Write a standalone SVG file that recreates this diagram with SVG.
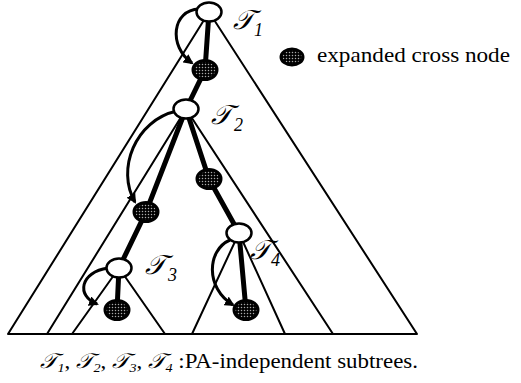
<svg xmlns="http://www.w3.org/2000/svg" width="521" height="383" viewBox="0 0 521 383">
<style>
.thin{fill:none;stroke:#000;stroke-width:2;stroke-linejoin:round}
.thick{fill:none;stroke:#000;stroke-width:5;stroke-linecap:round}
.curve{fill:none;stroke:#000;stroke-width:3;marker-end:url(#ah)}
.open{fill:#fff;stroke:#000;stroke-width:2.5}
.cross{fill:url(#dots);stroke:#000;stroke-width:3}
.lbl{font-family:"DejaVu Serif","Liberation Serif",serif;font-style:italic;font-size:27px;fill:#000}
.sub{font-family:"Liberation Serif",serif;font-style:italic;font-size:18px;fill:#000}
.txt{font-family:"Liberation Serif",serif;font-size:21px;fill:#000}
</style>
<defs>
<pattern id="dots" width="3" height="3" patternUnits="userSpaceOnUse">
<rect width="3" height="3" fill="#000"/>
<circle cx="1.5" cy="1.5" r="0.75" fill="#aaa"/>
</pattern>
<marker id="ah" markerWidth="10" markerHeight="10" refX="8" refY="5" orient="auto" markerUnits="userSpaceOnUse">
<path d="M0,0 L10,5 L0,10 Z" fill="#000"/>
</marker>
</defs>
<g id="connectors">
<path class="thin" d="M209,12 L8,334 L417,334 Z"/>
<path class="thin" d="M47,334 L186,109 L333,334"/>
<path class="thin" d="M72,334 L119,268 L165,334"/>
<path class="thin" d="M192,334 L239,233 L285,334"/>
<path class="thick" d="M209,12 L205,70 L186,109"/>
<path class="thick" d="M186,109 L146,212 L119,268"/>
<path class="thick" d="M186,109 L209,179 L239,233"/>
<path class="thick" d="M119,268 L117,310"/>
<path class="thick" d="M239,233 L246,310"/>
<path class="curve" d="M199,9 C172,10 168,46 192,63"/>
<path class="curve" d="M177,111 C135,120 116,170 135,202"/>
<path class="curve" d="M108,268 C80,272 76,296 97,304"/>
<path class="curve" d="M230,240 C207,250 205,288 233,305"/>
</g>
<g id="T1"><ellipse class="open" cx="209" cy="12" rx="12.5" ry="9.5"/><text class="lbl" x="233" y="29">𝒯</text><text class="sub" x="254" y="36">1</text></g>
<g id="c1"><ellipse class="cross" cx="205" cy="70" rx="12" ry="9.5"/></g>
<g id="T2"><ellipse class="open" cx="186" cy="109" rx="12.5" ry="9.5"/><text class="lbl" x="211" y="124">𝒯</text><text class="sub" x="234" y="131">2</text></g>
<g id="c2"><ellipse class="cross" cx="146" cy="212" rx="12" ry="9.5"/></g>
<g id="c3"><ellipse class="cross" cx="209" cy="179" rx="12" ry="9.5"/></g>
<g id="T3"><ellipse class="open" cx="119" cy="268" rx="12.5" ry="9.5"/><text class="lbl" x="145" y="274">𝒯</text><text class="sub" x="168" y="281">3</text></g>
<g id="c4"><ellipse class="cross" cx="117" cy="310" rx="12" ry="9.5"/></g>
<g id="T4"><ellipse class="open" cx="239" cy="233" rx="12.5" ry="9.5"/><text class="lbl" x="250" y="259">𝒯</text><text class="sub" x="271" y="266">4</text></g>
<g id="c5"><ellipse class="cross" cx="246" cy="310" rx="12" ry="9.5"/></g>
<g id="legend"><ellipse class="cross" cx="292" cy="57" rx="11" ry="8"/><text class="txt" x="317" y="62" textLength="193" lengthAdjust="spacingAndGlyphs">expanded cross node</text></g>
<g id="caption"><text class="txt" x="40" y="368" font-size="20" textLength="378" lengthAdjust="spacingAndGlyphs"><tspan font-style="italic">𝒯</tspan><tspan font-size="13" font-style="italic" dy="4">1</tspan><tspan dy="-4">, </tspan><tspan font-style="italic">𝒯</tspan><tspan font-size="13" font-style="italic" dy="4">2</tspan><tspan dy="-4">, </tspan><tspan font-style="italic">𝒯</tspan><tspan font-size="13" font-style="italic" dy="4">3</tspan><tspan dy="-4">, </tspan><tspan font-style="italic">𝒯</tspan><tspan font-size="13" font-style="italic" dy="4">4</tspan><tspan dy="-4"> :PA-independent subtrees.</tspan></text></g>
</svg>
